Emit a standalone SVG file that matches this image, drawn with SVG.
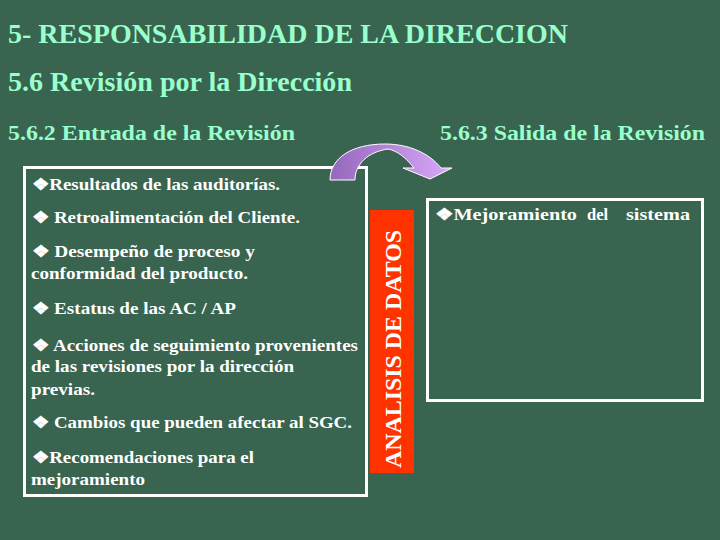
<svg xmlns="http://www.w3.org/2000/svg" width="720" height="540" viewBox="0 0 720 540">
<defs>
<linearGradient id="arrowGrad" x1="0" y1="0" x2="1" y2="0">
<stop offset="0" stop-color="#9468bc"/>
<stop offset="1" stop-color="#d9a8fa"/>
</linearGradient>
</defs>
<style>
.box{fill:none;stroke:#ffffff;stroke-width:3}
</style>
<rect x="0" y="0" width="720" height="540" fill="#386450"/>
<g id="titles" fill="#99ffcc" font-weight="bold">
<text font-family="Liberation Serif" x="8" y="43" font-size="28" textLength="560" lengthAdjust="spacingAndGlyphs">5- RESPONSABILIDAD DE LA DIRECCION</text>
<text font-family="Liberation Serif" x="8" y="91" font-size="27" textLength="344" lengthAdjust="spacingAndGlyphs">5.6 Revisión por la Dirección</text>
<text font-family="Liberation Serif" x="8" y="140" font-size="22" textLength="287" lengthAdjust="spacingAndGlyphs">5.6.2 Entrada de la Revisión</text>
<text font-family="Liberation Serif" x="440" y="140" font-size="22" textLength="265" lengthAdjust="spacingAndGlyphs">5.6.3 Salida de la Revisión</text>
</g>
<g id="input-box" fill="#ffffff" font-weight="bold" font-size="16.5">
<rect class="box" x="24.5" y="167.5" width="342" height="328"/>
<text font-family="Liberation Serif" x="32" y="190" textLength="248" lengthAdjust="spacingAndGlyphs">❖Resultados de las auditorías.</text>
<text font-family="Liberation Serif" x="32" y="223" textLength="268" lengthAdjust="spacingAndGlyphs">❖ Retroalimentación del Cliente.</text>
<text font-family="Liberation Serif" x="32" y="257" textLength="223" lengthAdjust="spacingAndGlyphs">❖ Desempeño de  proceso y</text>
<text font-family="Liberation Serif" x="31" y="279" textLength="217" lengthAdjust="spacingAndGlyphs">conformidad del producto.</text>
<text font-family="Liberation Serif" x="32" y="314" textLength="204" lengthAdjust="spacingAndGlyphs">❖ Estatus de las AC / AP</text>
<text font-family="Liberation Serif" x="32" y="351" textLength="326" lengthAdjust="spacingAndGlyphs">❖ Acciones de seguimiento provenientes</text>
<text font-family="Liberation Serif" x="31" y="372" textLength="263" lengthAdjust="spacingAndGlyphs">de las revisiones por la dirección</text>
<text font-family="Liberation Serif" x="31" y="395" textLength="64" lengthAdjust="spacingAndGlyphs">previas.</text>
<text font-family="Liberation Serif" x="32" y="428" textLength="320" lengthAdjust="spacingAndGlyphs">❖ Cambios que pueden afectar al SGC.</text>
<text font-family="Liberation Serif" x="32" y="463" textLength="222" lengthAdjust="spacingAndGlyphs">❖Recomendaciones para el</text>
<text font-family="Liberation Serif" x="31" y="485" textLength="114" lengthAdjust="spacingAndGlyphs">mejoramiento</text>
</g>
<g id="analisis">
<rect x="370" y="210" width="44" height="263" fill="#ff3300"/>
<text font-family="Liberation Serif" transform="translate(401,349) rotate(-90)" text-anchor="middle" font-weight="bold" font-size="24" fill="#ffffff" textLength="238" lengthAdjust="spacingAndGlyphs">ANALISIS DE DATOS</text>
</g>
<g id="output-box" fill="#ffffff" font-weight="bold" font-size="16.5">
<rect class="box" x="427.5" y="199.5" width="275" height="201"/>
<text font-family="Liberation Serif" y="220"><tspan x="435" textLength="142" lengthAdjust="spacingAndGlyphs">❖Mejoramiento</tspan><tspan x="587">del</tspan><tspan x="626" textLength="64" lengthAdjust="spacingAndGlyphs">sistema</tspan></text>
</g>
<g id="connectors">
<path d="M330,180 C330,158 352,144 385,144 C410,144 430,154 441,168 L452,168 L430,179 L403,168 L414,168 C406,158 398,151 388,149 C368,152 355,164 355,180 Z" fill="url(#arrowGrad)" stroke="#ffffff" stroke-width="1"/>
</g>
</svg>
